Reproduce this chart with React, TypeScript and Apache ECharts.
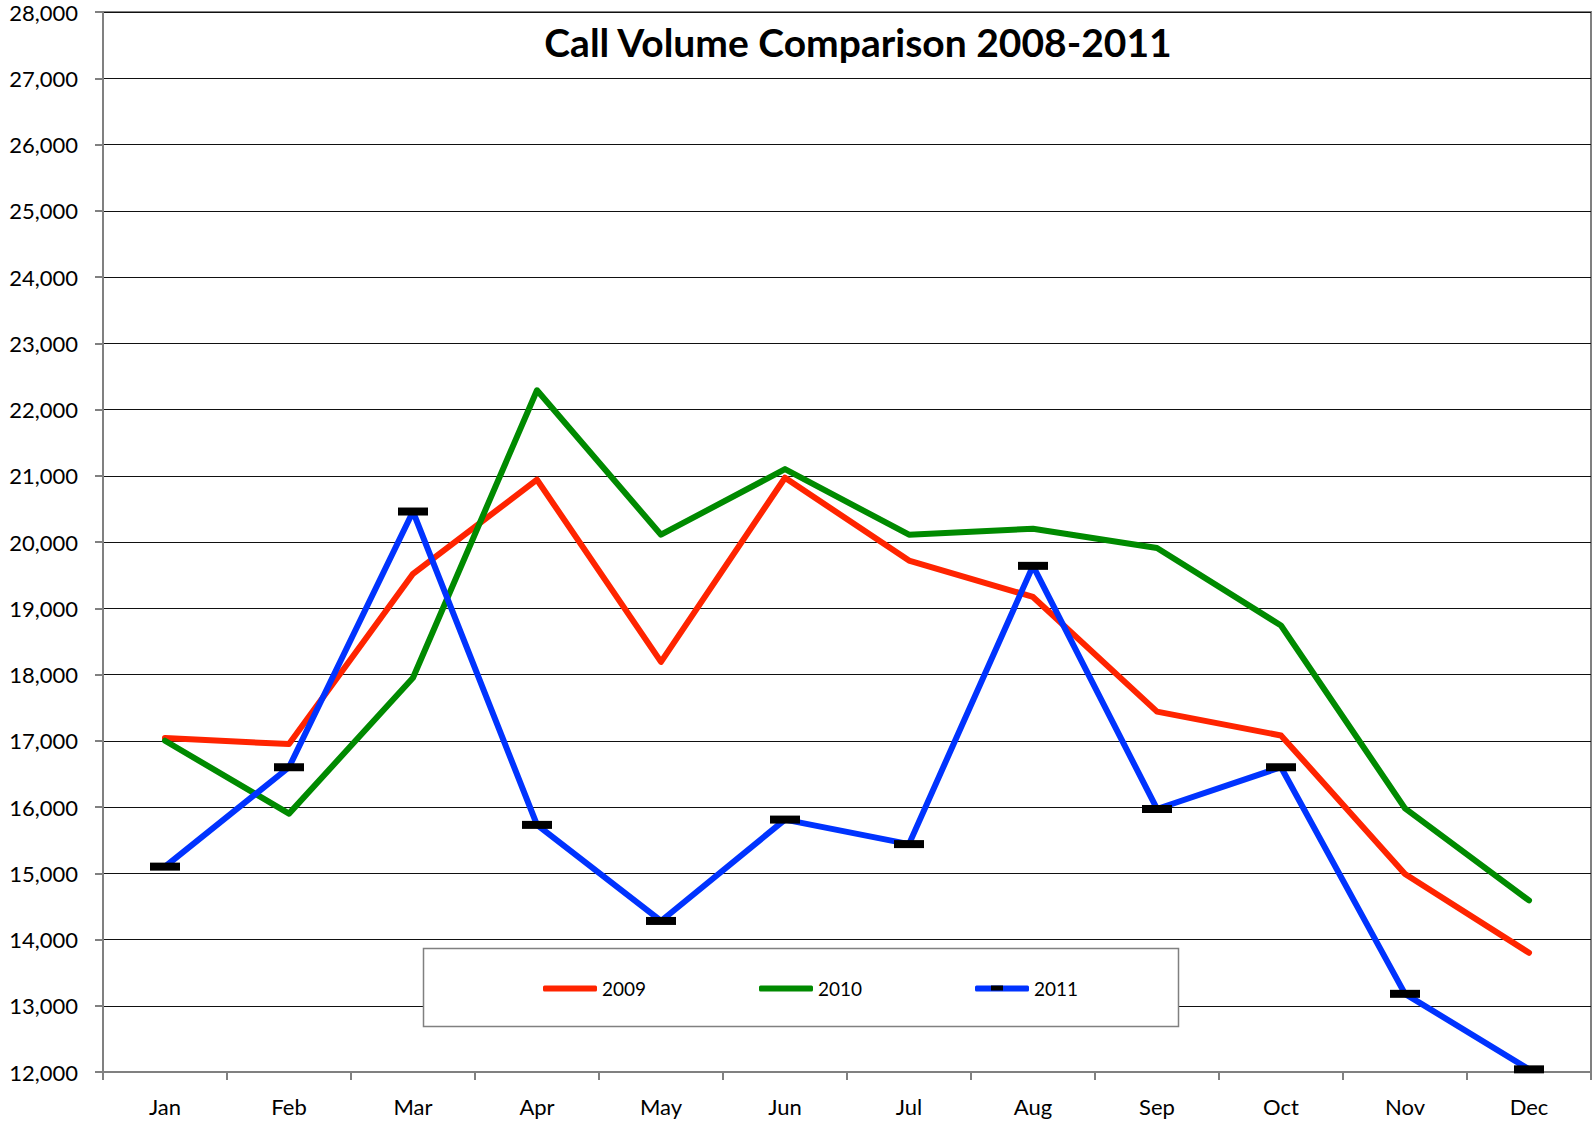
import React, { useEffect, useRef } from "react";
import * as echarts from "echarts";

const months = ["Jan", "Feb", "Mar", "Apr", "May", "Jun", "Jul", "Aug", "Sep", "Oct", "Nov", "Dec"];
const years = ["2009", "2010", "2011"];
const data2009 = [17040, 16950, 19520, 20940, 18190, 20970, 19720, 19170, 17440, 17080, 14990, 13800];
const data2010 = [17000, 15900, 17950, 22290, 20110, 21100, 20110, 20200, 19910, 18740, 15980, 14590];
const data2011 = [15100, 16600, 20460, 15730, 14280, 15810, 15440, 19640, 15970, 16600, 13180, 12040];
const yMin = 12000;
const yMax = 28000;
const yStep = 1000;
const titleText = "Call Volume Comparison 2008-2011";

const FONT = "Lato, 'Open Sans', sans-serif";
const COLORS = ["#FF2400", "#008A00", "#0033FF"];
const LEGEND_LEFT = [538, 754, 970];

export default function App() {
  const ref = useRef<HTMLDivElement>(null);
  useEffect(() => {
    if (!ref.current) return;
    const chart = echarts.init(ref.current, null, { renderer: "svg" });
    const axisGray = "#808080";
    const legends = years.map((y, i) => ({
      data: [{ name: y, icon: "roundRect", itemStyle: { color: COLORS[i] } }],
      left: LEGEND_LEFT[i],
      top: 974,
      z: 10,
      itemWidth: 54,
      itemHeight: 6,
      selectedMode: false,
      textStyle: { fontSize: 19, color: "#000", fontFamily: FONT },
    }));
    chart.setOption({
      animation: false,
      backgroundColor: "#ffffff",
      textStyle: { fontFamily: FONT },
      grid: {
        left: 103,
        right: 1,
        top: 10,
        bottom: 54,
        show: true,
        borderColor: axisGray,
        borderWidth: 2,
        backgroundColor: "transparent",
      },
      graphic: [
        {
          type: "text",
          x: 858,
          y: 42,
          z: 10,
          style: {
            text: titleText,
            align: "center",
            verticalAlign: "middle",
            font: "bold 39px Lato, 'Open Sans', sans-serif",
            fill: "#000",
          },
        },
        {
          type: "rect",
          z: 5,
          shape: { x: 423.5, y: 948.5, width: 755, height: 78 },
          style: { fill: "#fff", stroke: axisGray, lineWidth: 1.5 },
        },
        {
          type: "rect",
          z: 20,
          shape: { x: LEGEND_LEFT[2] + 21, y: 985.5, width: 12, height: 5 },
          style: { fill: "#000" },
        },
      ],
      legend: legends,
      xAxis: {
        type: "category",
        data: months,
        boundaryGap: true,
        axisLine: { show: true, lineStyle: { color: axisGray, width: 2 } },
        axisTick: { show: true, length: 8, lineStyle: { color: axisGray, width: 2 } },
        axisLabel: { fontSize: 22, color: "#000", margin: 23, fontFamily: FONT },
        splitLine: { show: false },
      },
      yAxis: {
        type: "value",
        min: yMin,
        max: yMax,
        interval: yStep,
        axisLine: { show: true, lineStyle: { color: axisGray, width: 2 } },
        axisTick: { show: true, length: 8, lineStyle: { color: axisGray, width: 2 } },
        axisLabel: {
          fontSize: 22,
          lineHeight: 18,
          padding: [6, 0, 0, 0],
          color: "#000",
          margin: 25,
          fontFamily: FONT,
          formatter: (v: number) => v.toLocaleString("en-US"),
        },
        splitLine: { show: true, lineStyle: { color: "#111", width: 1 } },
      },
      series: [
        {
          name: "2009",
          type: "line",
          data: data2009,
          symbol: "none",
          lineStyle: { color: COLORS[0], width: 6, cap: "round", join: "round" },
          itemStyle: { color: COLORS[0] },
          z: 2,
        },
        {
          name: "2010",
          type: "line",
          data: data2010,
          symbol: "none",
          lineStyle: { color: COLORS[1], width: 6, cap: "round", join: "round" },
          itemStyle: { color: COLORS[1] },
          z: 3,
        },
        {
          name: "2011",
          type: "line",
          data: data2011,
          symbol: "rect",
          symbolSize: [30, 8],
          lineStyle: { color: COLORS[2], width: 6, cap: "round", join: "round" },
          itemStyle: { color: "#000" },
          z: 4,
        },
      ],
    });
    return () => chart.dispose();
  }, []);
  return <div ref={ref} style={{ position: "fixed", left: 0, top: 0, width: 1592, height: 1126 }} />;
}
